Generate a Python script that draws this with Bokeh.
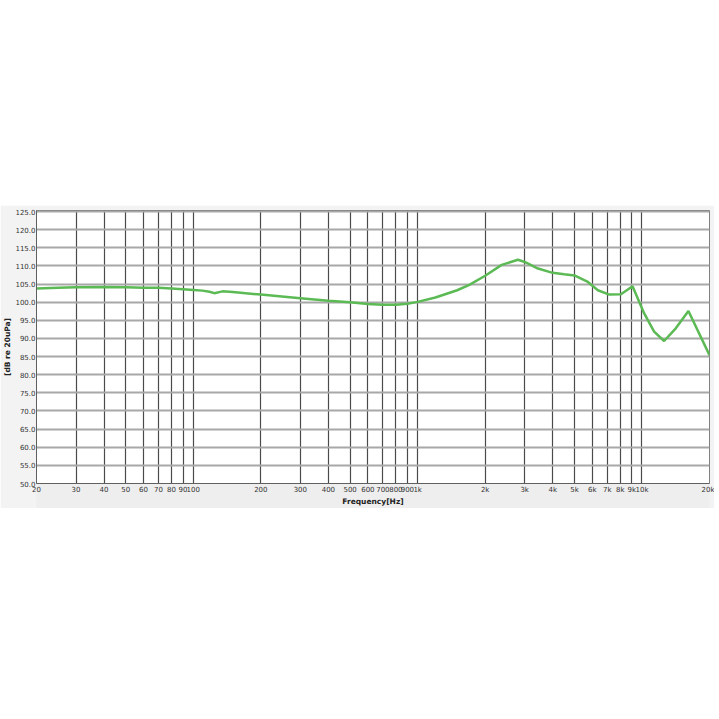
from bokeh.plotting import figure
from bokeh.models import FixedTicker, Range1d, Spacer
from bokeh.layouts import column
from bokeh.embed import file_html
from bokeh.resources import INLINE

# Frequency response data
freqs = [20, 25, 30, 40, 50, 60, 70, 80, 90, 100, 110, 118, 124, 135, 150, 200,
         300, 400, 500, 600, 700, 800, 900, 1000, 1200, 1500, 1700, 2000, 2370,
         2800, 3000, 3440, 4000, 4500, 5000, 5740, 6360, 7150, 8060, 9080, 10230,
         11330, 12550, 14150, 16110, 20000]
spl = [103.8, 104.0, 104.1, 104.2, 104.1, 104.0, 104.0, 103.8, 103.6, 103.4, 103.2,
       102.9, 102.5, 103.0, 102.8, 102.1, 101.1, 100.4, 100.0, 99.5, 99.3, 99.3,
       99.6, 100.1, 101.3, 103.3, 104.8, 107.3, 110.3, 111.7, 111.1, 109.3, 108.1,
       107.7, 107.4, 105.6, 103.3, 102.1, 102.2, 104.4, 96.9, 91.9, 89.3, 92.8,
       97.6, 85.4]

x_ticks = [20, 30, 40, 50, 60, 70, 80, 90, 100, 200, 300, 400, 500, 600, 700, 800,
           900, 1000, 2000, 3000, 4000, 5000, 6000, 7000, 8000, 9000, 10000, 20000]
x_tick_labels = ["20", "30", "40", "50", "60", "70", "80", "90", "100", "200", "300",
                 "400", "500", "600", "700", "800", "900", "1k", "2k", "3k", "4k",
                 "5k", "6k", "7k", "8k", "9k", "10k", "20k"]
y_ticks = [50, 55, 60, 65, 70, 75, 80, 85, 90, 95, 100, 105, 110, 115, 120, 125]
y_tick_labels = ["%.1f" % v for v in y_ticks]

p = figure(width=714, height=303, x_axis_type="log", output_backend="svg",
           toolbar_location=None, x_range=Range1d(20, 20000),
           y_range=Range1d(50, 125.3),
           min_border_left=33, min_border_right=5, min_border_top=5,
           min_border_bottom=24)

p.background_fill_color = "white"
p.border_fill_color = "#f3f3f3"
p.outline_line_color = "#808080"
p.outline_line_width = 1

p.xaxis.ticker = FixedTicker(ticks=x_ticks, minor_ticks=[])
p.xaxis.major_label_overrides = {t: l for t, l in zip(x_ticks, x_tick_labels)}
p.yaxis.ticker = FixedTicker(ticks=y_ticks, minor_ticks=[])
p.yaxis.major_label_overrides = {t: l for t, l in zip(y_ticks, y_tick_labels)}

for ax in (p.xaxis[0], p.yaxis[0]):
    ax.major_label_text_font = "DejaVu Sans"
    ax.major_label_text_font_size = "7px"
    ax.major_label_text_color = "#333333"
    ax.axis_label_text_font = "DejaVu Sans"
    ax.axis_label_text_font_size = "7.5px"
    ax.axis_label_text_font_style = "bold"
    ax.axis_label_text_color = "#222222"
    ax.axis_line_color = "#606060"
    ax.major_tick_in = 0
    ax.major_tick_out = 0
    ax.minor_tick_line_color = None
    ax.axis_label_standoff = 0

p.xaxis.major_label_standoff = 2
p.yaxis.major_label_standoff = 1
p.xaxis.axis_label = "Frequency[Hz]"
p.yaxis.axis_label = "[dB re 20uPa]"
p.xaxis.background_fill_color = "#eeeeee"

p.xgrid.grid_line_color = "#4a4a4a"
p.xgrid.grid_line_width = 1.2
p.ygrid.grid_line_color = "#a8a8a8"
p.ygrid.grid_line_width = 1.8

p.line(freqs, spl, line_color="#5cba55", line_width=2.5)

layout = column(Spacer(width=714, height=205), p)
open("out.html", "w").write(file_html(layout, INLINE))
